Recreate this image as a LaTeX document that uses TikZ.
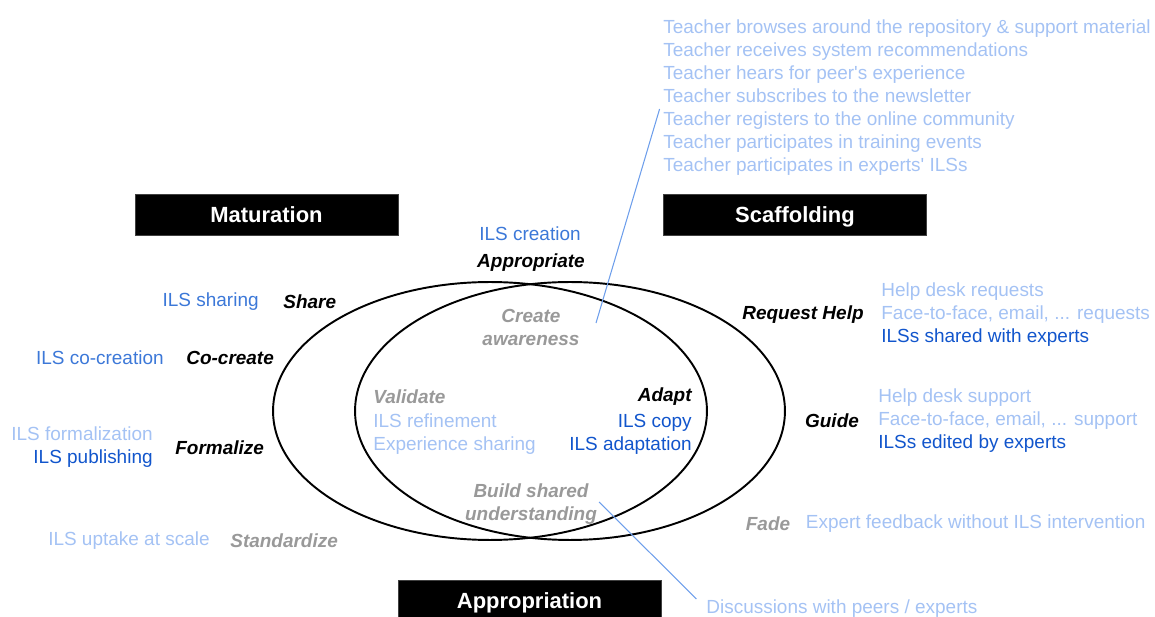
\documentclass[tikz,border=0pt]{standalone}
\usepackage{fontspec}
\setmainfont{Liberation Sans}
\usetikzlibrary{positioning}
\definecolor{lightblue}{HTML}{A4C2F4}
\definecolor{midblue}{HTML}{3C78D8}
\definecolor{darkblue}{HTML}{1155CC}
\definecolor{stepgray}{HTML}{999999}
\definecolor{linkblue}{HTML}{6D9EEB}

\begin{document}
\begin{tikzpicture}[
    x=0.02cm,y=-0.02cm,
    phase/.style={rectangle,fill=black,draw=black!75,minimum width=5.26cm,minimum height=0.82cm,text height=9pt,text depth=0pt,text=white,font=\fontsize{12.5}{15}\selectfont\bfseries},
    act/.style={inner sep=0pt,font=\fontsize{10.8}{13.1}\selectfont\bfseries\itshape},
    item/.style={inner sep=0pt,font=\fontsize{10.8}{13.1}\selectfont},
    loop/.style={line width=1.1pt},
    link/.style={linkblue,line width=0.6pt}
]
    \useasboundingbox (0,0) rectangle (1155,617);

    \draw[loop] (490,411) ellipse [x radius=4.34cm,y radius=2.58cm];
    \draw[loop] (570,411) ellipse [x radius=4.30cm,y radius=2.58cm];

    \node[phase] (mat) at (266.5,214.5) {Maturation};
    \node[phase] (scaf) at (795,214.5) {Scaffolding};
    \node[phase] (appr) at (529.5,600.5) {Appropriation};

    \coordinate (aware-end) at (596,323);
    \coordinate (build-end) at (599,502);

    \begin{scope}[yshift=-0.05cm]
    \node[item,lightblue,anchor=west,align=left] (teach) at (663,95) {Teacher browses around the repository \& support material\\Teacher receives system recommendations\\Teacher hears for peer\textquotesingle s experience\\Teacher subscribes to the newsletter\\Teacher registers to the online community\\Teacher participates in training events\\Teacher participates in experts\textquotesingle\ ILSs};

    \node[item,midblue] (creation) at (530,231) {ILS creation};
    \node[act] (approp) at (531,260) {Appropriate};
    \node[act,stepgray,align=center] (aware) at (531,325) {Create\\awareness};

    \node[item,midblue,anchor=east] (sharing) at (259,299) {ILS sharing};
    \node[act,right=0.48cm of sharing] (share) {Share};
    \node[item,midblue,anchor=east] (cocreation) at (164,355) {ILS co-creation};
    \node[act,right=0.44cm of cocreation] (cocreate) {Co-create};
    \node[item,anchor=east,align=right] (formal) at (153,445) {\textcolor{lightblue}{ILS formalization}\\\textcolor{darkblue}{ILS publishing}};
    \node[act,right=0.44cm of formal] (formalize) {Formalize};
    \node[item,lightblue,anchor=east] (uptake) at (210,538) {ILS uptake at scale};
    \node[act,stepgray,right=0.4cm of uptake] (standard) {Standardize};

    \node[act,stepgray,anchor=west] (validate) at (373,394) {Validate};
    \node[item,lightblue,anchor=west,align=left] (refine) at (373,432) {ILS refinement\\Experience sharing};
    \node[act,anchor=east] (adapt) at (692,394) {Adapt};
    \node[item,darkblue,anchor=east,align=right] (copy) at (692,432) {ILS copy\\ILS adaptation};
    \node[act,stepgray,align=center] (build) at (531,502) {Build shared\\understanding};

    \node[act] (reqhelp) at (803,312) {Request Help};
    \node[item,anchor=west,align=left] (reqlist) at (881,312) {\textcolor{lightblue}{Help desk requests}\\\textcolor{lightblue}{Face-to-face, email, ... requests}\\\textcolor{darkblue}{ILSs shared with experts}};
    \node[act] (guide) at (832,418) {Guide};
    \node[item,anchor=west,align=left] (guidelist) at (878,418) {\textcolor{lightblue}{Help desk support}\\\textcolor{lightblue}{Face-to-face, email, ... support}\\\textcolor{darkblue}{ILSs edited by experts}};
    \node[act,stepgray] (fade) at (768,521) {Fade};
    \node[item,lightblue,right=0.3cm of fade] (feedback) {Expert feedback without ILS intervention};
    \node[item,lightblue,anchor=west] (discuss) at (706,606) {Discussions with peers / experts};
    \end{scope}

    \draw[link,shorten >=0.24cm] (aware-end) -- (teach.west);
    \draw[link,shorten >=0.27cm] (build-end) -- (discuss.west);
\end{tikzpicture}
\end{document}
